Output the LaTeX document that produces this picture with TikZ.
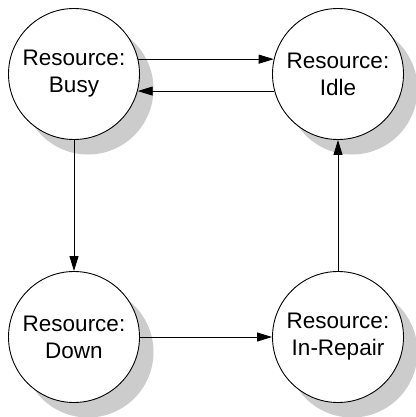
\documentclass[tikz,border=0pt]{standalone}
\usepackage{fontspec}
\setmainfont{Liberation Sans}
\usetikzlibrary{arrows.meta,shadows}
\definecolor{shadowgray}{RGB}{204,204,204}
\tikzset{
  state/.style={circle,draw=black,line width=0.9pt,fill=white,minimum size=131pt,inner sep=0pt,
    align=center,font=\fontsize{22.5}{27}\selectfont,
    drop shadow={shadow xshift=14pt,shadow yshift=-15pt,fill=shadowgray,opacity=1}},
  arr/.style={line width=0.9pt,-{Triangle[length=15pt,width=9pt]}}
}
\begin{document}
\begin{tikzpicture}[x=1pt,y=-1pt]
\useasboundingbox (0,0) rectangle (415,417);
\node[state] (tl) at (74,74) {Resource:\\Busy};
\node[state] (tr) at (338,74) {Resource:\\Idle};
\node[state] (bl) at (74,337) {Resource:\\Down};
\node[state] (br) at (338,337) {Resource:\\In-Repair};
\draw[arr] (tl.13) -- (tr.167);
\draw[arr] (tr.195) -- (tl.-15);
\draw[arr] (tl.south) -- (bl.north);
\draw[arr] (bl.east) -- (br.west);
\draw[arr] (br.north) -- (tr.south);
\end{tikzpicture}
\end{document}
